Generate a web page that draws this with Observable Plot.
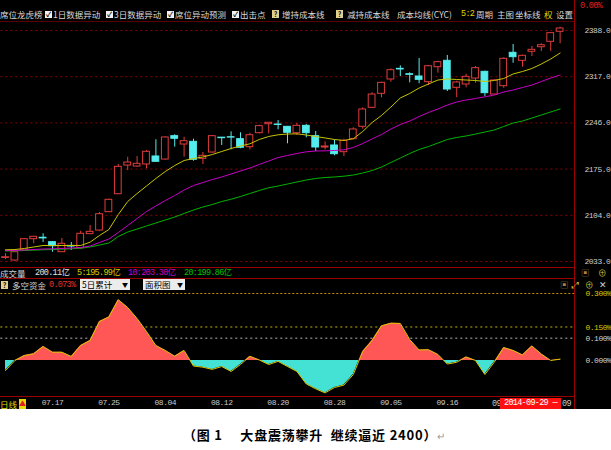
<!DOCTYPE html>
<html><head><meta charset="utf-8">
<script src="https://cdn.jsdelivr.net/npm/d3@7"></script>
<script src="https://cdn.jsdelivr.net/npm/@observablehq/plot@0.6"></script>
<style>
body{margin:0;background:#fff;}
#wrap{position:relative;width:611px;height:450px;background:#fff;overflow:hidden;font-family:"Noto Sans CJK SC",sans-serif;}
#panel{position:absolute;left:0;top:0;width:611px;height:409px;background:#000;overflow:hidden;}
.t{position:absolute;white-space:nowrap;font-size:8.5px;line-height:9px;color:#d8d8d8;}
.m{font-family:"Liberation Mono","Noto Sans CJK SC",monospace;letter-spacing:-0.7px;}
.hl{position:absolute;height:1px;background:#9a0000;}
.vl{position:absolute;width:1px;background:#9a0000;}
.cb{position:absolute;width:7px;height:7px;background:#f0f0f0;color:#000;font-size:7px;line-height:7px;text-align:center;font-weight:bold;}
.q{position:absolute;width:7px;height:8px;background:#e0d090;color:#000;font-size:7px;line-height:8px;text-align:center;font-weight:bold;}
.dd{position:absolute;height:11px;background:#ececec;color:#000;font-size:8.5px;line-height:11px;padding-left:2px;box-sizing:border-box;}
.dd span{position:absolute;right:2px;font-size:6px;}
svg text{letter-spacing:-0.5px;}
#cap{position:absolute;left:183px;top:425px;font-size:13px;font-weight:bold;color:#000;white-space:nowrap;letter-spacing:0.8px;}
</style></head>
<body><div id="wrap"><div id="panel"></div><div id="cap">（图 1　 大盘震荡攀升&nbsp; 继续逼近 2400）<span style="color:#999;font-weight:normal;font-size:10px">↵</span></div></div>
<script>
// ---- data (60 trading days, 2014-07-10 .. 2014-10-09) ----
const open  = [2038.5,2034.5,2049.9,2067.3,2069.5,2062.7,2047.3,2057.0,2053.4,2075.0,2080.6,2108.8,2136.4,2180.5,2179.0,2182.1,2194.4,2189.7,2225.6,2212.8,2216.9,2190.8,2200.5,2223.3,2224.0,2221.0,2208.7,2230.2,2244.0,2243.5,2240.0,2230.2,2241.5,2225.6,2208.2,2211.3,2201.0,2221.0,2240.0,2269.2,2290.7,2312.7,2329.1,2320.8,2317.3,2308.6,2331.6,2341.4,2299.9,2305.0,2314.2,2324.5,2289.6,2302.4,2353.7,2341.4,2355.3,2362.3,2370.6,2386.0];
const high  = [2045.0,2049.9,2068.3,2071.4,2075.6,2063.7,2068.3,2062.2,2079.6,2088.3,2108.3,2128.8,2182.1,2193.3,2194.4,2203.6,2220.0,2224.6,2227.7,2224.0,2221.0,2200.5,2226.6,2223.6,2232.3,2230.8,2230.2,2242.5,2246.2,2249.7,2240.5,2245.1,2243.5,2232.8,2216.9,2220.0,2221.0,2238.5,2269.2,2292.3,2308.6,2329.1,2333.7,2323.0,2345.0,2334.2,2340.8,2349.6,2310.1,2320.8,2332.7,2325.5,2312.2,2346.0,2366.5,2350.0,2363.4,2367.6,2383.9,2393.1];
const low   = [2036.0,2033.4,2048.8,2060.2,2062.2,2047.3,2047.3,2049.9,2051.4,2074.5,2079.6,2108.3,2136.0,2172.8,2177.9,2175.4,2185.5,2188.7,2208.7,2193.3,2187.2,2182.1,2199.4,2211.3,2204.6,2206.3,2204.6,2229.2,2229.2,2235.4,2213.9,2226.6,2223.1,2202.0,2204.6,2195.4,2194.4,2220.0,2236.4,2268.1,2284.6,2308.6,2317.3,2307.6,2306.1,2303.5,2322.4,2294.3,2284.6,2299.9,2307.0,2286.6,2288.6,2299.3,2337.7,2331.6,2348.0,2355.7,2355.7,2367.6];
const close = [2039.5,2047.3,2067.3,2071.0,2068.5,2056.5,2060.2,2056.0,2075.6,2078.6,2105.7,2127.8,2178.5,2185.1,2183.1,2201.6,2186.2,2223.6,2221.6,2217.9,2189.3,2195.4,2225.6,2222.5,2223.4,2207.8,2227.1,2241.0,2246.2,2242.8,2230.8,2241.5,2230.2,2208.2,2209.7,2197.9,2218.5,2235.9,2266.6,2289.6,2307.6,2327.0,2328.1,2319.9,2312.2,2333.1,2339.3,2297.3,2308.1,2316.8,2330.1,2291.7,2311.2,2344.5,2347.0,2349.1,2358.3,2365.4,2383.9,2391.1];
const ma5   = [2051.0,2051.4,2053.0,2055.3,2057.6,2057.6,2057.6,2057.6,2057.6,2062.7,2073.0,2082.2,2105.2,2125.2,2137.5,2149.0,2160.6,2171.3,2180.5,2188.2,2191.3,2193.6,2197.4,2202.0,2206.7,2210.5,2213.9,2220.5,2225.1,2227.7,2228.9,2229.2,2227.4,2225.1,2222.8,2220.5,2219.0,2221.6,2232.8,2246.6,2257.4,2270.4,2284.3,2291.2,2299.6,2305.8,2311.9,2313.5,2312.7,2311.9,2311.2,2309.6,2311.2,2314.2,2321.2,2325.0,2329.6,2336.5,2344.2,2353.4];
const ma10  = [2049.9,2049.9,2050.7,2051.4,2052.2,2052.5,2053.0,2053.7,2054.5,2056.8,2062.2,2067.6,2077.6,2088.3,2099.1,2109.8,2118.3,2126.7,2134.4,2142.9,2149.8,2154.4,2159.0,2162.9,2167.5,2172.1,2176.7,2182.1,2187.4,2192.8,2195.9,2199.0,2201.6,2202.8,2203.1,2203.6,2204.7,2208.2,2214.3,2221.3,2228.2,2236.6,2243.5,2248.9,2255.8,2262.0,2267.4,2273.5,2278.1,2281.2,2283.5,2286.1,2288.9,2293.5,2296.6,2300.4,2304.2,2309.6,2315.0,2319.6];
const ma20  = [2049.1,2049.4,2049.9,2050.4,2051.0,2051.4,2051.9,2052.5,2053.4,2055.3,2058.3,2061.4,2071.4,2078.3,2082.9,2087.6,2092.2,2096.8,2101.4,2106.8,2112.1,2116.8,2120.6,2125.2,2128.7,2132.9,2137.5,2142.1,2146.3,2149.0,2152.1,2155.2,2158.2,2160.6,2162.1,2162.9,2164.1,2165.9,2169.0,2172.8,2178.2,2185.1,2192.1,2199.0,2205.1,2209.7,2215.1,2220.5,2223.6,2225.9,2228.9,2232.0,2235.1,2240.5,2245.8,2248.9,2253.5,2258.1,2262.8,2267.4];
const flow  = [-0.045,0.000,0.022,0.030,0.063,0.037,0.037,0.018,0.067,0.090,0.175,0.195,0.272,0.237,0.188,0.130,0.067,0.045,0.019,0.045,-0.025,-0.030,-0.040,-0.027,-0.049,-0.018,0.019,0.002,-0.018,-0.004,-0.027,-0.049,-0.105,-0.127,-0.145,-0.121,-0.110,-0.063,0.040,0.090,0.155,0.167,0.166,0.094,0.047,0.048,0.027,-0.016,-0.008,0.016,0.000,-0.063,-0.007,0.058,0.045,0.025,0.065,0.029,0.000,0.006];
const priceTicks = [2033,2104,2175,2246,2317,2388];
const dateTickIdx = [5,11,17,23,29,35,41,47,53,59];
const dateLabels = ["07.17","07.25","08.04","08.12","08.20","08.28","09.05","09.16","09.24","10.09"];
const flowTicksY = [0.3,0.15];
const flowTicksW = [0.1,0];

const RED="#e03c3c", CYAN="#54ecec", YEL="#c8c400", MAG="#c800c8", GRN="#00b400";
const panel = document.getElementById("panel");
const idx = d3.range(open.length);
const candles = idx.map(i=>({i,o:open[i],h:high[i],l:low[i],c:close[i],up:close[i]>=open[i]}));

function place(el,x,y){el.style.position="absolute";el.style.left=x+"px";el.style.top=y+"px";panel.appendChild(el);return el;}
function txt(s,x,y,color,cls){const d=document.createElement("div");d.className="t"+(cls?" "+cls:"");d.textContent=s;if(color)d.style.color=color;return place(d,x,y);}
function box(cls,x,y,s){const d=document.createElement("div");d.className=cls;d.textContent=s;return place(d,x,y);}

// ---- main candlestick plot ----
const main = Plot.plot({
  width:611, height:245, marginTop:0, marginBottom:0, marginLeft:0.3, marginRight:37,
  x:{domain:[-0.5,60.53], axis:null},
  y:{domain:[2023.78,2400.29], axis:null},
  color:{type:"identity"},
  style:{background:"transparent", fontFamily:"Liberation Mono", fontSize:"8px"},
  marks:[
    Plot.gridY(priceTicks,{stroke:"#8a0000", strokeOpacity:1, strokeDasharray:"2,3"}),
    Plot.axisY({anchor:"right", ticks:priceTicks, tickFormat:d=>d.toFixed(1), tickSize:0, tickPadding:10, fill:"#cccccc"}),
    Plot.ruleX(candles,{x:"i", y1:"l", y2:"h", stroke:d=>d.up?RED:CYAN, strokeWidth:1}),
    Plot.rect(candles,{x1:d=>d.i-0.36, x2:d=>d.i+0.36, y1:d=>Math.min(d.o,d.c), y2:d=>Math.max(d.o,d.c), fill:d=>d.up?"#000":CYAN, stroke:d=>d.up?RED:CYAN, strokeWidth:1}),
    Plot.lineY(idx,{x:i=>i, y:i=>ma20[i], stroke:GRN, strokeWidth:1}),
    Plot.lineY(idx,{x:i=>i, y:i=>ma10[i], stroke:MAG, strokeWidth:1}),
    Plot.lineY(idx,{x:i=>i, y:i=>ma5[i], stroke:YEL, strokeWidth:1})
  ]
});
main.style.position="absolute"; main.style.left="0px"; main.style.top="22px";
panel.appendChild(main);

// ---- lower money-flow plot ----
const H2=119;
const low2 = Plot.plot({
  width:611, height:H2, marginTop:0, marginBottom:13, marginLeft:0.3, marginRight:37,
  x:{domain:[-0.5,60.53], axis:null},
  y:{domain:[-0.1612,0.3134], axis:null},
  style:{background:"transparent", fontFamily:"Liberation Mono", fontSize:"8px"},
  marks:[
    Plot.ruleY([0.3],{stroke:"#c89600", strokeDasharray:"2,2", strokeWidth:1}),
    Plot.ruleY([0.15],{stroke:"#c8b400", strokeDasharray:"2,3"}),
    Plot.ruleY([0.1],{stroke:"#b8b8b8", strokeDasharray:"2,3"}),
    Plot.areaY(idx,{x:i=>i, y1:i=>0, y2:i=>flow[i], fill:"url(#flowGrad)"}),
    Plot.lineY(idx,{x:i=>i, y:i=>flow[i], stroke:"#d8c400", strokeWidth:1}),
    Plot.axisY({anchor:"right", ticks:flowTicksY, tickFormat:d=>d.toFixed(3)+"%", tickSize:0, tickPadding:11, fill:"#d8c800"}),
    Plot.axisY({anchor:"right", ticks:flowTicksW, tickFormat:d=>d.toFixed(3)+"%", tickSize:0, tickPadding:11, fill:"#d0d0d0"}),
    Plot.axisX({anchor:"bottom", ticks:dateTickIdx.slice(0,8), tickFormat:d=>dateLabels[dateTickIdx.indexOf(d)], tickSize:0, tickPadding:3, fill:"#c8c8c8"})
  ]
});
const y0 = low2.scale("y").apply(0);
const defs = d3.select(low2).insert("defs",":first-child");
const gr = defs.append("linearGradient").attr("id","flowGrad").attr("gradientUnits","userSpaceOnUse").attr("x1",0).attr("x2",0).attr("y1",0).attr("y2",H2);
gr.append("stop").attr("offset",y0/H2).attr("stop-color","#ff5656");
gr.append("stop").attr("offset",y0/H2).attr("stop-color","#44e2d4");
low2.style.position="absolute"; low2.style.left="0px"; low2.style.top="290px";
panel.appendChild(low2);

// ---- frame lines ----
function hl(y,x,w,c){const d=document.createElement("div");d.className="hl";d.style.width=w+"px";if(c)d.style.background=c;place(d,x,y);}
function vl(x,y,h){const d=document.createElement("div");d.className="vl";d.style.height=h+"px";place(d,x,y);}
hl(21,0,574,"#5a0000"); hl(267,0,574); hl(278,0,574); hl(396,0,574);
vl(574,0,409);

// ---- header row ----
const H=10;
txt("席位龙虎榜",0,H); box("cb",45,H+1,"✓"); txt("1日数据异动",53,H);
box("cb",106,H+1,"✓"); txt("3日数据异动",114,H);
box("cb",167,H+1,"✓"); txt("席位异动预测",175,H);
box("cb",232,H+1,"✓"); txt("出击点",240,H);
box("q",272,H,"?"); txt("增持成本线",282,H);
box("q",336,H,"?"); txt("减持成本线",347,H);
txt("成本均线(CYC)",397,H);
txt("5:2",461,H,"#e0d800","m"); txt("周期",476,H); txt("主图",497,H); txt("坐标线",515,H);
txt("权",544,H,"#e0d800"); txt("设置",556,H);
txt("0.00%",580,2,"#e02020","m");

// ---- volume row ----
txt("成交量",0,269,"#d0d0d0");
txt("200.11亿",35,269,"#e0e0e0","m");
txt("5:195.99亿",77,269,"#d8d000","m");
txt("10:203.30亿",128,269,"#c800c8","m");
txt("20:199.86亿",184,269,"#00c000","m");
txt("▣",581,268,"#b08040"); txt("⊕",598,268,"#c0c040");

// ---- money flow row ----
box("q",1,281,"?");
txt("多空资金",12,281,"#d0d0d0");
txt("0.073%",49,281,"#e03030","m");
const d1=box("dd",80,279,"5日累计"); d1.style.width="50px"; const a1=document.createElement("span");a1.textContent="▼";d1.appendChild(a1);
const d2=box("dd",143,279,"面积图"); d2.style.width="42px"; const a2=document.createElement("span");a2.textContent="▼";d2.appendChild(a2);
txt("▣",560,280,"#b08040"); txt("⤢",572,280,"#c0c040"); txt("⊕",585,280,"#c0c040"); txt("✕",599,280,"#d0d0d0");

// ---- date row extras: labels partly hidden behind the cursor box ----
txt("日线",0,400,"#e0d800");
const tri=box("q",19,399,"▲"); tri.style.color="#e02020"; tri.style.background="#e8d800"; tri.style.height="10px";
txt("09",492,400,"#c8c8c8","m");
const rb=document.createElement("div"); rb.className="t m"; rb.textContent="2014-09-29 —";
rb.style.background="#ff1010"; rb.style.color="#fff"; rb.style.width="61px"; rb.style.height="11px"; rb.style.lineHeight="11px"; rb.style.paddingLeft="4px"; rb.style.boxSizing="border-box";
place(rb,500,398);
txt("09",562,400,"#c8c8c8","m");
</script></body></html>
